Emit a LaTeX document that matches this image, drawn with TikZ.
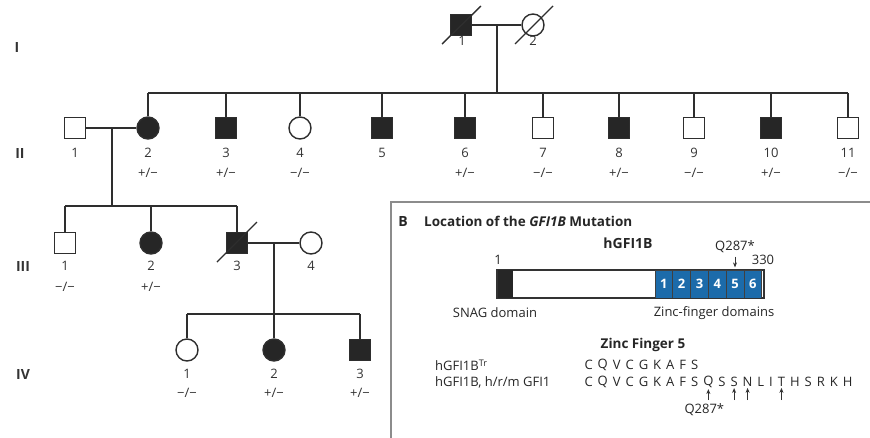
\documentclass[tikz,border=0pt]{standalone}
\usepackage{fontspec}
\setmainfont{Open Sans}
\usetikzlibrary{positioning,arrows.meta}
\definecolor{znblue}{HTML}{1C6BAA}
\definecolor{pedline}{HTML}{2E2E2E}
\newcommand{\het}{+/−}
\newcommand{\wt}{−/−}

\begin{document}
\begin{tikzpicture}[x=1pt, y=-1pt,
  male/.style={rectangle, draw=pedline, line width=1.4pt, minimum size=21pt, inner sep=0pt},
  female/.style={circle, draw=pedline, line width=1.4pt, minimum size=22pt, inner sep=0pt},
  mU/.style={male, fill=white},
  mA/.style={male, fill=black!85},
  fU/.style={female, fill=white},
  fA/.style={female, fill=black!85},
  link/.style={draw=pedline, line width=1.4pt},
  tag/.style={font=\fontsize{13}{13}\selectfont, text=black!80, inner sep=0pt},
  gen/.style={font=\fontsize{14}{14}\selectfont\bfseries, text=black!80},
  zf/.style={rectangle, draw=black!75, line width=0.8pt, fill=znblue, minimum width=17.8pt,
             minimum height=28pt, inner sep=0pt, text=white, font=\fontsize{13}{13}\selectfont\bfseries},
  seq/.style={font=\fontsize{13}{13}\selectfont, text=black!85, inner xsep=2.3pt, inner ysep=0pt},
  lbl/.style={font=\fontsize{13}{13}\selectfont, text=black!85},
  up/.style={-{Stealth[length=5pt, width=4pt]}, line width=0.9pt, draw=black!80}
]
\useasboundingbox (0,0) rectangle (870,437);

% generation labels
\node[gen] (gI)   at (17,47)  {I};
\node[gen] (gII)  at (20,153) {II};
\node[gen] (gIII) at (23,266) {III};
\node[gen] (gIV)  at (23,374) {IV};

% Generation I
\node[mA] (I1) at (461,25) {};
\node[fU] (I2) at (533,25) {};
\node[tag] at (462,41) {1};
\node[tag] at (533,41) {2};
\draw[link] ([shift={(-19,19)}]I1.center) -- ([shift={(20,-19)}]I1.center);
\draw[link] ([shift={(-18,19)}]I2.center) -- ([shift={(20,-19)}]I2.center);
\draw[link] (I1) -- (I2);
\coordinate (mI) at (497,25);
\coordinate (sibII) at (0,93);

% Generation II
\foreach \x/\s/\n/\g in {75/mU/1/, 148/fA/2/\het, 226/mA/3/\het, 300/fU/4/\wt,
    382/mA/5/, 465/mA/6/\het, 543/mU/7/\wt, 619/mA/8/\het, 694/mU/9/\wt,
    771/mA/10/\het, 848/mU/11/\wt}{
  \node[\s] (II\n) at (\x,128) {};
  \node[tag] at (\x,153) {\n};
  \node[tag] at (\x,173) {\g};
}
\draw[link] (mI) -- (mI |- sibII);
\draw[link] (II2.north |- sibII) -- (II11.north |- sibII);
\foreach \n in {2,...,11}
  \draw[link] (II\n.north) -- (II\n.north |- sibII);

% Generation III
\draw[link] (II1) -- (II2);
\coordinate (mII) at (112,128);
\coordinate (sibIII) at (0,206);
\foreach \x/\s/\n/\g in {65/mU/1/\wt, 151/fA/2/\het, 237/mA/3/, 311/fU/4/}{
  \node[\s] (III\n) at (\x,243) {};
  \node[tag] at (\x,266) {\n};
  \node[tag] at (\x,287) {\g};
}
\draw[link] (mII) -- (mII |- sibIII);
\draw[link] (III1.north |- sibIII) -- (III3.north |- sibIII);
\foreach \n in {1,2,3}
  \draw[link] (III\n.north) -- (III\n.north |- sibIII);
\draw[link] ([shift={(-20,19)}]III3.center) -- ([shift={(20,-21)}]III3.center);

% Generation IV
\draw[link] (III3) -- (III4);
\coordinate (mIII) at (274,243);
\coordinate (sibIV) at (0,314);
\foreach \x/\s/\n/\g in {187/fU/1/\wt, 274/fA/2/\het, 360/mA/3/\het}{
  \node[\s] (IV\n) at (\x,350) {};
  \node[tag] at (\x,374) {\n};
  \node[tag] at (\x,393) {\g};
}
\draw[link] (mIII) -- (mIII |- sibIV);
\draw[link] (IV1.north |- sibIV) -- (IV3.north |- sibIV);
\foreach \n in {1,2,3}
  \draw[link] (IV\n.north) -- (IV\n.north |- sibIV);

% Panel B
\draw[draw=black!45, line width=1.5pt] (391,445) -- (391,202) -- (880,202);
\node[font=\fontsize{14}{14}\selectfont\bfseries, text=black!85] (Blbl) at (403,221) {B};
\node[font=\fontsize{13.5}{14}\selectfont\bfseries, text=black!85, anchor=west, inner sep=0pt]
  (Btitle) at (424,221) {Location of the \textit{GFI1B} Mutation};
\node[font=\fontsize{14}{14}\selectfont\bfseries, text=black!85] (prot) at (628,243) {hGFI1B};

\node[draw=black!80, line width=1.2pt, fill=white, minimum width=266pt, minimum height=28pt,
      inner sep=0pt, anchor=west] (bar) at (497,284) {};
\node[rectangle, fill=black!85, minimum width=16pt, minimum height=28pt, inner sep=0pt,
      anchor=west] (snag) at (bar.west) {};
\foreach \i in {1,...,6}
  \node[zf] (zf\i) at (655+\i*17.8-8.9,284) {\i};
\draw[draw=black!80, line width=1.2pt] (bar.north west) rectangle (bar.south east);
\node[lbl, anchor=south] (pstart) at (498,268) {1};
\node[lbl, anchor=south] (pend) at (763,268) {330};
\node[lbl] (qtop) at (735,247) {Q287*};
\draw[up] (qtop.south) -- ([yshift=2pt]qtop.south |- bar.north);
\node[lbl] (snaglbl) at (495,313) {SNAG domain};
\node[lbl] (zflbl) at (714,313) {Zinc-finger domains};

% Zinc finger 5
\node[font=\fontsize{13.5}{14}\selectfont\bfseries, text=black!85] (zf5lbl) at (643,345) {Zinc Finger 5};
\node[lbl, anchor=west, inner sep=0pt] (trlbl) at (435,365) {hGFI1B\textsuperscript{Tr}};
\node[lbl, anchor=west, inner sep=0pt] (wtlbl) at (435,382) {hGFI1B, h/r/m GFI1};

\node[seq, anchor=west] (a1) at (582,365) {C};
\foreach \c [count=\i from 2] in {Q,V,C,G,K,A,F,S}{
  \pgfmathtruncatemacro{\p}{\i-1}
  \node[seq, right=0pt of a\p] (a\i) {\c};
}
\node[seq, anchor=west] (b1) at (582,382) {C};
\foreach \c [count=\i from 2] in {Q,V,C,G,K,A,F,S,Q,S,S,N,L,I,T,H,S,R,K,H}{
  \pgfmathtruncatemacro{\p}{\i-1}
  \node[seq, right=0pt of b\p] (b\i) {\c};
}
\coordinate (abase) at (0,400);
\foreach \i in {10,12,13,16}
  \draw[up] (b\i.south |- abase) -- ([yshift=-1pt]b\i.south);
\node[lbl, anchor=north] (qbot) at ([xshift=-4pt]b10.south |- abase) {Q287*};
\end{tikzpicture}
\end{document}
